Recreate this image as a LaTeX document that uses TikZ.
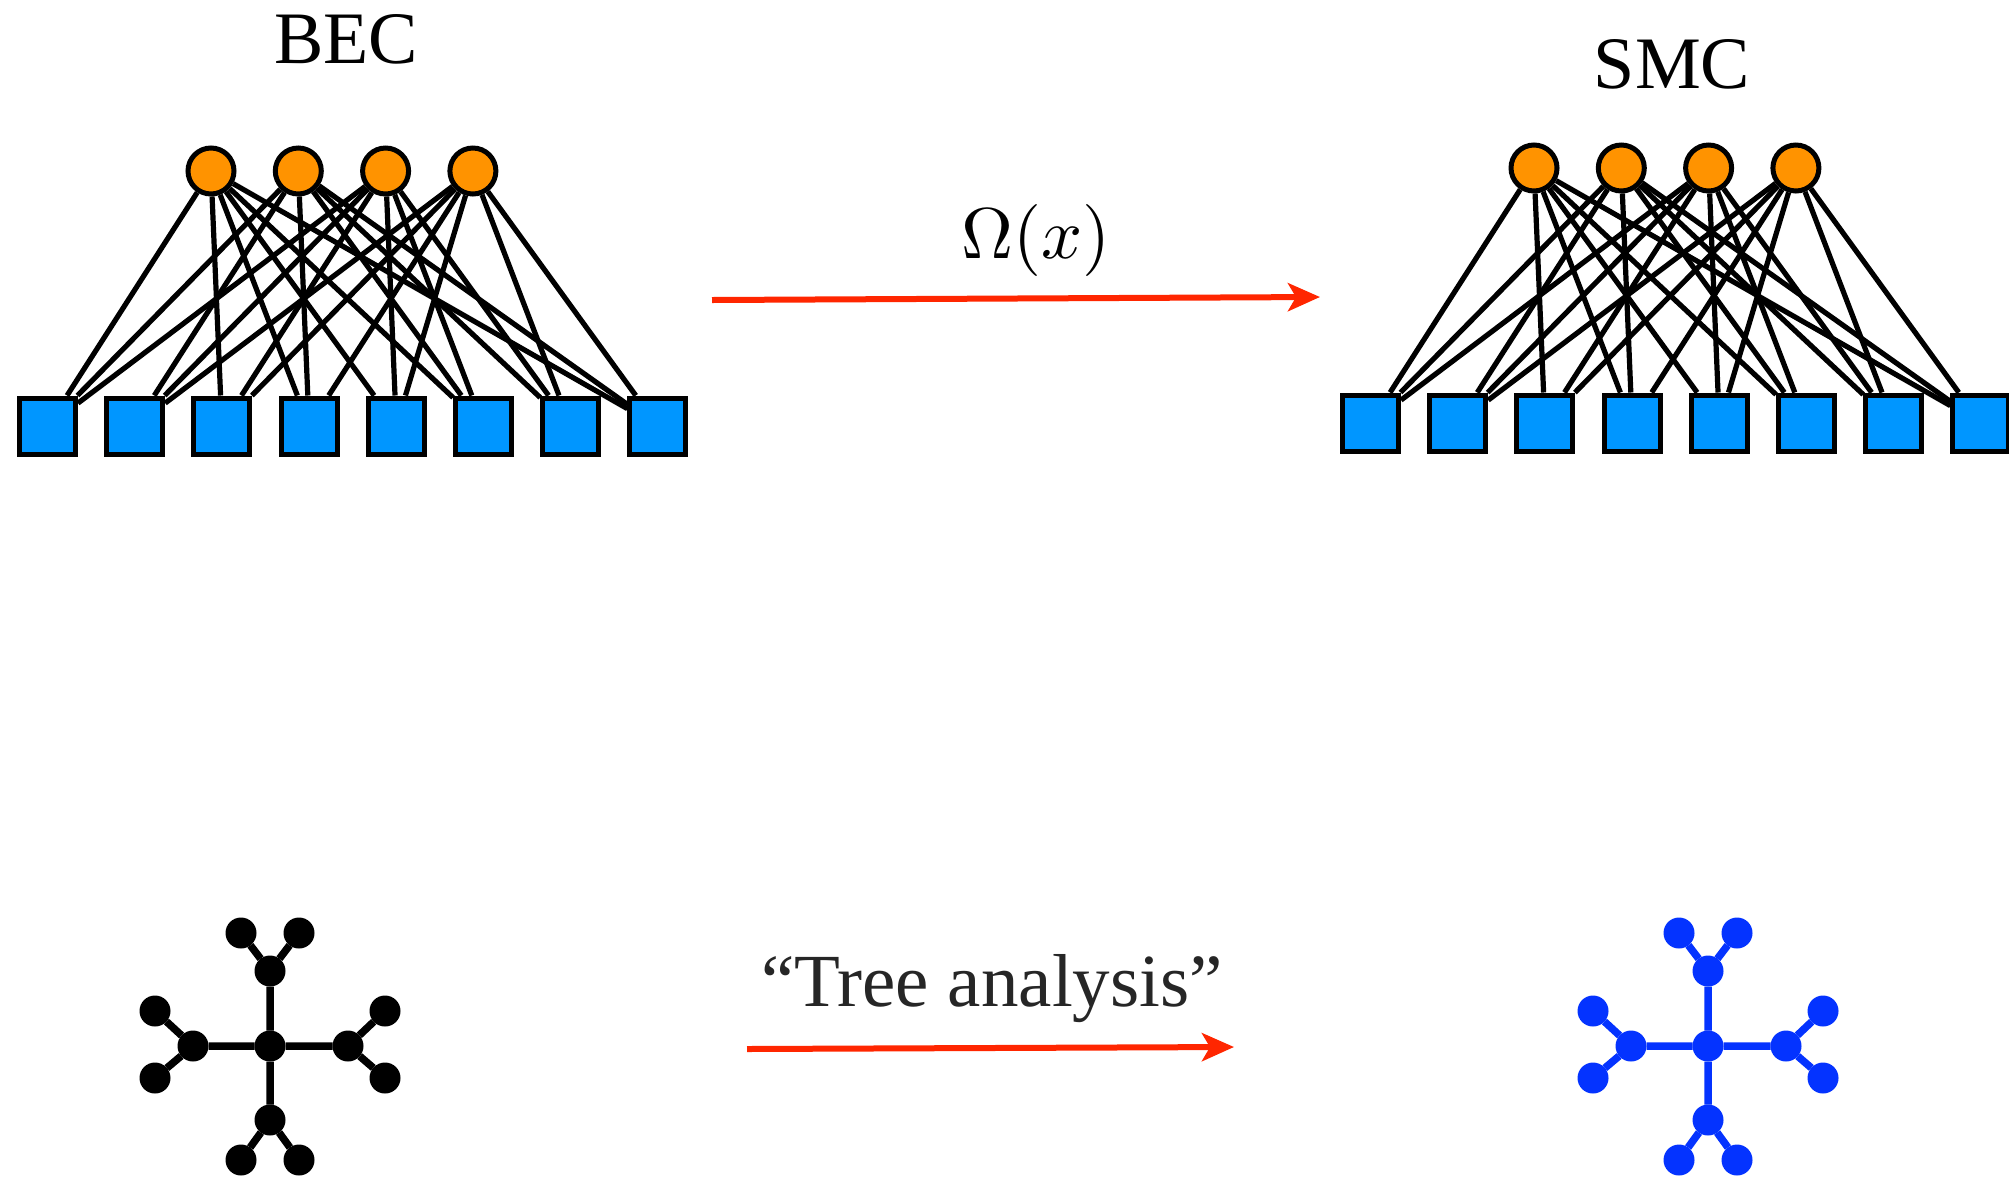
\documentclass[tikz,border=0pt]{standalone}
\usepackage{fontspec}
\setmainfont{Liberation Serif}
\usetikzlibrary{arrows.meta}

\definecolor{varorange}{RGB}{255,147,0}
\definecolor{chkblue}{RGB}{0,150,255}
\definecolor{arrowred}{RGB}{255,38,0}
\definecolor{treeblue}{RGB}{4,51,255}
\definecolor{labelgray}{RGB}{38,38,38}

% bipartite graph: #1 name prefix, #2/#3 shift
\newcommand\bipgraph[3]{%
  \foreach \i in {1,...,8}
    \node[chknode] (#1s\i) at ({#2+47.5+87.2*(\i-1)},{#3+426}) {};
  \foreach \j in {1,...,4}
    \node[varnode] (#1c\j) at ({#2+211+87.3*(\j-1)},{#3+171}) {};
  \foreach \j/\nbrs in {1/{1,3,4,5,6,8},2/{1,2,4,6,7,8},3/{1,2,3,5,6,7},4/{2,3,4,5,7,8}}
    \foreach \i in \nbrs
      \draw[edgeline] (#1c\j) -- (#1s\i);
}

% tree: #1 name prefix, #2 x shift, #3 colour
\newcommand\treegraph[3]{%
  \begin{scope}[every node/.style={dot=#3}]
    \node (#1o)  at ({#2+270},1046) {};
    \node (#1mt) at ({#2+270},971)  {};
    \node (#1ml) at ({#2+193},1046) {};
    \node (#1mr) at ({#2+348},1046) {};
    \node (#1mb) at ({#2+270},1120) {};
    \node (#1t1) at ({#2+241},933)  {};
    \node (#1t2) at ({#2+299},933)  {};
    \node (#1l1) at ({#2+155},1011) {};
    \node (#1l2) at ({#2+155},1078) {};
    \node (#1r1) at ({#2+385},1011) {};
    \node (#1r2) at ({#2+385},1078) {};
    \node (#1b1) at ({#2+241},1160) {};
    \node (#1b2) at ({#2+299},1160) {};
  \end{scope}
  \draw[treeline=#3] (#1o) -- (#1mt) (#1o) -- (#1ml) (#1o) -- (#1mr) (#1o) -- (#1mb)
    (#1mt) -- (#1t1) (#1mt) -- (#1t2) (#1ml) -- (#1l1) (#1ml) -- (#1l2)
    (#1mr) -- (#1r1) (#1mr) -- (#1r2) (#1mb) -- (#1b1) (#1mb) -- (#1b2);
}

\begin{document}
\begin{tikzpicture}[x=1pt,y=-1pt,
  varnode/.style={circle,draw=black,line width=5pt,fill=varorange,minimum size=46pt,inner sep=0pt},
  chknode/.style={rectangle,draw=black,line width=5pt,fill=chkblue,minimum size=56pt,inner sep=0pt},
  edgeline/.style={draw=black,line width=5.2pt},
  dot/.style={circle,fill=#1,minimum size=31pt,inner sep=0pt,outer sep=0pt},
  treeline/.style={draw=#1,line width=7.5pt},
  mapsto/.style={draw=arrowred,line width=6pt,-{Stealth[length=32pt,width=28pt,inset=8pt]}},
  title/.style={anchor=base,font=\fontsize{74}{80}\selectfont}]
  \useasboundingbox (0,0) rectangle (2009,1176);

  % titles
  \node[title] (bec) at (346,63) {BEC};
  \node[title] (smc) at (1672,88) {SMC};

  % the two factor graphs
  \bipgraph{L}{0}{0}
  \bipgraph{R}{1323}{-3}

  % upper map
  \coordinate (a1) at (712,300);
  \coordinate (a2) at (1320,297);
  \draw[mapsto] (a1) -- (a2);
  \node[anchor=base,inner sep=0pt] (omega) at (1036,258) {\scalebox{7.2}{$\Omega(x)$}};

  % lower map
  \coordinate (b1) at (747,1049);
  \coordinate (b2) at (1234,1047);
  \draw[mapsto] (b1) -- (b2);
  \node[anchor=base,font=\fontsize{75}{80}\selectfont,text=labelgray] (tree) at (992,1006) {“Tree analysis”};

  % the two trees
  \treegraph{P}{0}{black}
  \treegraph{Q}{1438}{treeblue}
\end{tikzpicture}
\end{document}
